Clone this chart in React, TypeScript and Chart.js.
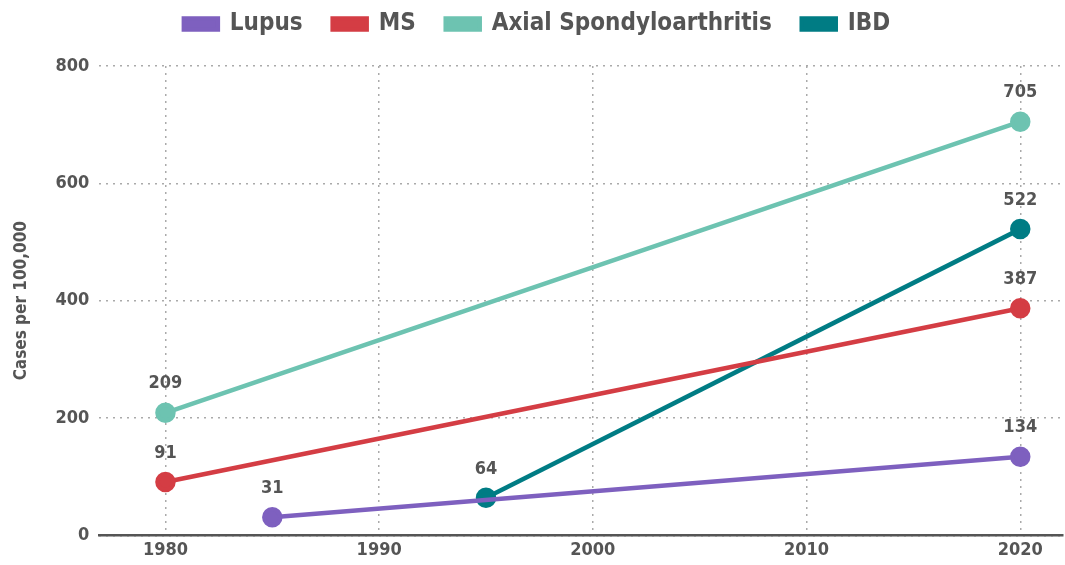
import React, { useEffect, useRef } from "react";
import { Chart, registerables } from "chart.js";

Chart.register(...registerables);

const seriesNames = ["Lupus", "MS", "Axial Spondyloarthritis", "IBD"];
const seriesColors = ["#7E60BF", "#D43D44", "#6DC3B1", "#007C84"];
const lupusYears = [1985, 2020];
const lupusValues = [31, 134];
const msYears = [1980, 2020];
const msValues = [91, 387];
const axialYears = [1980, 2020];
const axialValues = [209, 705];
const ibdYears = [1995, 2020];
const ibdValues = [64, 522];
const xTicks = [1980, 1990, 2000, 2010, 2020];
const yTicks = [0, 200, 400, 600, 800];

const FONT = "'DejaVu Sans Condensed', 'DejaVu Sans', sans-serif";
const TEXT = "#555555";

const labelPlugin = {
  id: "valueLabels",
  afterDatasetsDraw(chart: any) {
    const ctx = chart.ctx;
    ctx.save();
    ctx.font = `bold condensed 18px ${FONT}`;
    ctx.fillStyle = TEXT;
    ctx.textAlign = "center";
    ctx.textBaseline = "bottom";
    chart.data.datasets.forEach((ds: any, i: number) => {
      const meta = chart.getDatasetMeta(i);
      meta.data.forEach((pt: any, j: number) => {
        const v = ds.data[j].y;
        ctx.fillText(String(v), pt.x, pt.y - 20);
      });
    });
    ctx.restore();
  },
};

const legendSpacer = {
  id: "legendSpacer",
  beforeInit(chart: any) {
    const orig = chart.legend.fit;
    chart.legend.fit = function () {
      orig.bind(chart.legend)();
      this.height += 20;
    };
  },
};

export default function App() {
  const ref = useRef<HTMLCanvasElement>(null);
  useEffect(() => {
    document.body.style.margin = "0";
    const mk = (xs: number[], ys: number[]) => xs.map((x, i) => ({ x, y: ys[i] }));
    const sets = [
      mk(lupusYears, lupusValues),
      mk(msYears, msValues),
      mk(axialYears, axialValues),
      mk(ibdYears, ibdValues),
    ];
    const chart = new Chart(ref.current!, {
      type: "line",
      data: {
        datasets: sets.map((d, i) => ({
          label: seriesNames[i],
          data: d,
          borderColor: seriesColors[i],
          backgroundColor: seriesColors[i],
          pointBackgroundColor: seriesColors[i],
          pointBorderColor: seriesColors[i],
          borderWidth: 4.5,
          pointRadius: 8,
          pointHoverRadius: 8,
          tension: 0,
          clip: false,
        })),
      },
      options: {
        animation: false,
        responsive: false,
        layout: { autoPadding: false, padding: { top: -18, right: 2, left: 11, bottom: 0 } },
        plugins: {
          tooltip: { enabled: false },
          legend: {
            position: "top",
            labels: {
              boxWidth: 34,
              boxHeight: 11,
              padding: 30,
              color: TEXT,
              font: { family: FONT, size: 24, weight: "bold" },
            },
          },
        },
        scales: {
          x: {
            type: "linear",
            min: 1976.9,
            max: 2022,
            afterBuildTicks: (axis: any) => {
              axis.ticks = xTicks.map((v) => ({ value: v }));
            },
            afterFit: (axis: any) => {
              axis.paddingRight = 0;
              axis.paddingLeft = 0;
            },
            ticks: {
              color: TEXT,
              font: { family: FONT, size: 18, weight: "bold" },
              padding: 4,
              maxRotation: 0,
              callback: (v: any) => String(v),
            },
            grid: {
              color: "#aaaaaa",
              lineWidth: 1.5,
              drawTicks: false,
            },
            border: { display: true, color: "#555555", width: 2.5, dash: [2, 5] } as any,
          },
          y: {
            type: "linear",
            min: 0,
            max: 800,
            afterBuildTicks: (axis: any) => {
              axis.ticks = yTicks.map((v) => ({ value: v }));
            },
            ticks: {
              color: TEXT,
              font: { family: FONT, size: 18, weight: "bold" },
              padding: 10,
              callback: (v: any) => String(v),
            },
            grid: {
              color: "#aaaaaa",
              lineWidth: 1.5,
              drawTicks: false,
            },
            border: { display: false, dash: [2, 5] } as any,
            title: {
              display: true,
              text: "Cases per 100,000",
              color: TEXT,
              font: { family: FONT, size: 17, weight: "bold" },
              padding: { top: 0, bottom: 14 },
            },
          },
        },
      },
      plugins: [labelPlugin, legendSpacer],
    });
    return () => chart.destroy();
  }, []);
  return (
    <div style={{ width: 1065, height: 565 }}>
      <canvas ref={ref} width={1065} height={565} />
    </div>
  );
}
